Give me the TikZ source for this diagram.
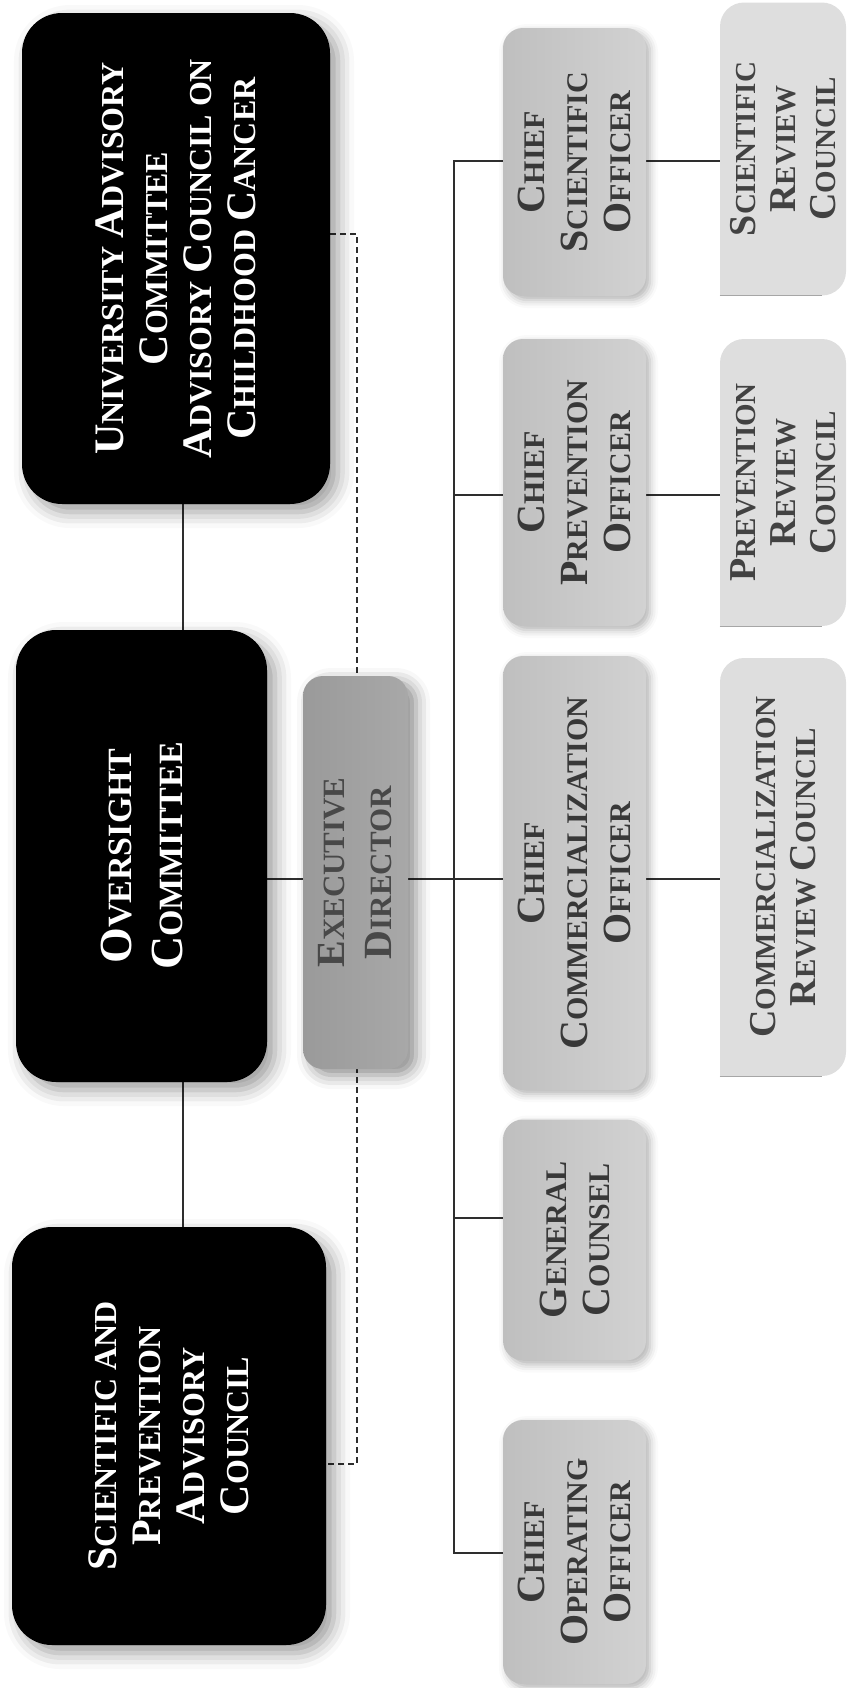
\documentclass[tikz,border=0pt]{standalone}
\usepackage{fontspec}
\setmainfont{Liberation Serif}
\usetikzlibrary{backgrounds,calc,shadows.blur}
\definecolor{chiefgray}{HTML}{BFBFBF}
\definecolor{chieflight}{HTML}{D2D2D2}
\definecolor{execgray}{HTML}{9A9A9A}
\definecolor{execlight}{HTML}{A8A8A8}
\definecolor{revgray}{HTML}{DEDEDE}
\definecolor{chieftext}{HTML}{383838}
\definecolor{exectext}{HTML}{484848}
\definecolor{revtext}{HTML}{424242}
\definecolor{linecol}{HTML}{2E2E2E}
\newcommand\W[2]{{\fontsize{\bigsz}{\bigsz}\selectfont #1}#2}
\begin{document}
\begin{tikzpicture}[x=0.5pt,y=-0.5pt,
  blackbox/.style={fill=black, rounded corners=20pt, inner sep=0pt,
    blur shadow={shadow xshift=4pt, shadow yshift=-4pt, shadow blur radius=8pt, shadow opacity=40}},
  chiefbox/.style={left color=chiefgray, right color=chieflight, rounded corners=10pt, inner sep=0pt, minimum width=71.5pt,
    blur shadow={shadow xshift=2pt, shadow yshift=-2pt, shadow blur radius=4pt, shadow opacity=30}},
  execbox/.style={left color=execgray, right color=execlight, rounded corners=10pt, inner sep=0pt,
    blur shadow={shadow xshift=4pt, shadow yshift=-3pt, shadow blur radius=7pt, shadow opacity=45}},
  revbox/.style={fill=revgray, rounded corners=12pt, inner sep=0pt, minimum width=63pt},
  wtext/.style={rotate=90, align=center, text=white, inner sep=0pt,
    font=\def\bigsz{21}\fontsize{16}{22}\selectfont\bfseries},
  otext/.style={rotate=90, align=center, text=white, inner sep=0pt,
    font=\def\bigsz{23}\fontsize{17}{25.5}\selectfont\bfseries},
  ctext/.style={rotate=90, align=center, text=chieftext, inner sep=0pt,
    font=\def\bigsz{20}\fontsize{15}{21.5}\selectfont\bfseries},
  etext/.style={rotate=90, align=center, text=exectext, inner sep=0pt,
    font=\def\bigsz{20}\fontsize{15.5}{23.5}\selectfont\bfseries},
  rtext/.style={rotate=90, align=center, text=revtext, inner sep=0pt,
    font=\def\bigsz{19}\fontsize{14.5}{20}\selectfont\bfseries},
  conn/.style={draw=linecol, line width=0.6pt},
  dconn/.style={draw=linecol, line width=0.6pt, dash pattern=on 3pt off 2pt}
]
\useasboundingbox (0,0) rectangle (848,1688);

% black boxes
\node[blackbox, minimum width=154pt, minimum height=245.5pt] (uni) at (176,258.5) {};
\node[wtext] (uniT) at (uni.center) {\W{U}{NIVERSITY} \W{A}{DVISORY}\\\W{C}{OMMITTEE}\\\W{A}{DVISORY} \W{C}{OUNCIL} ON\\\W{C}{HILDHOOD} \W{C}{ANCER}};
\node[blackbox, minimum width=125.5pt, minimum height=226pt] (over) at (141.5,856) {};
\node[otext] (overT) at (over.center) {\W{O}{VERSIGHT}\\\W{C}{OMMITTEE}};
\node[blackbox, minimum width=157pt, minimum height=209pt] (sci) at (169,1436) {};
\node[wtext] (sciT) at (sci.center) {\W{S}{CIENTIFIC} AND\\\W{P}{REVENTION}\\\W{A}{DVISORY}\\\W{C}{OUNCIL}};

% executive director
\node[execbox, minimum width=52.5pt, minimum height=196.5pt] (exec) at (355.5,872.5) {};
\node[etext] (execT) at (exec.center) {\W{E}{XECUTIVE}\\\W{D}{IRECTOR}};

% chief boxes
\node[chiefbox, minimum height=134pt] (csci) at (574.5,162) {};
\node[ctext] (csciT) at (csci.center) {\W{C}{HIEF}\\\W{S}{CIENTIFIC}\\\W{O}{FFICER}};
\node[chiefbox, minimum height=143.5pt] (cprev) at (574.5,482.5) {};
\node[ctext] (cprevT) at (cprev.center) {\W{C}{HIEF}\\\W{P}{REVENTION}\\\W{O}{FFICER}};
\node[chiefbox, minimum height=217pt] (ccomm) at (574.5,873) {};
\node[ctext] (ccommT) at (ccomm.center) {\W{C}{HIEF}\\\W{C}{OMMERCIALIZATION}\\\W{O}{FFICER}};
\node[chiefbox, minimum height=120.5pt] (gc) at (574.5,1240) {};
\node[ctext] (gcT) at (gc.center) {\W{G}{ENERAL}\\\W{C}{OUNSEL}};
\node[chiefbox, minimum height=132pt] (coo) at (574.5,1552) {};
\node[ctext] (cooT) at (coo.center) {\W{C}{HIEF}\\\W{O}{PERATING}\\\W{O}{FFICER}};

% review boxes
\node[revbox, minimum height=146.5pt] (rsci) at (783,149) {};
\node[revbox, minimum height=143.5pt] (rprev) at (783,482.5) {};
\node[revbox, minimum height=209pt] (rcomm) at (783,867) {};
\foreach \r in {rsci,rprev,rcomm}{
  \fill[revgray] (\r.south west) rectangle +(24,-24);
  \draw[gray!70, line width=0.5pt] (\r.south west) -- ($(\r.south east)+(-12pt,0)$);
}
\node[rtext] (rsciT) at (rsci.center) {\W{S}{CIENTIFIC}\\\W{R}{EVIEW}\\\W{C}{OUNCIL}};
\node[rtext] (rprevT) at (rprev.center) {\W{P}{REVENTION}\\\W{R}{EVIEW}\\\W{C}{OUNCIL}};
\node[rtext] (rcommT) at (rcomm.center) {\W{C}{OMMERCIALIZATION}\\\W{R}{EVIEW} \W{C}{OUNCIL}};

% connectors
\coordinate (ux) at (183,0);
\coordinate (my) at (0,879);
\coordinate (bus) at (454,0);
\coordinate (ly1) at (0,161);
\coordinate (ly2) at (0,495);
\coordinate (ly4) at (0,1218);
\coordinate (ly5) at (0,1553);
\coordinate (dx) at (357,0);
\coordinate (dy1) at (0,234);
\coordinate (dy2) at (0,1464);
\begin{scope}[on background layer]
  \draw[conn] (uni.south -| ux) -- (over.north -| ux);
  \draw[conn] (over.south -| ux) -- (sci.north -| ux);
  \draw[conn] (over.east |- my) -- (ccomm.west |- my);
  \draw[conn] (csci.west |- ly1) -| (bus |- ly5) -- (coo.west |- ly5);
  \draw[conn] (bus |- ly2) -- (cprev.west |- ly2);
  \draw[conn] (bus |- ly4) -- (gc.west |- ly4);
  \draw[conn] (csci.east |- ly1) -- (rsci.west |- ly1);
  \draw[conn] (cprev.east |- ly2) -- (rprev.west |- ly2);
  \draw[conn] (ccomm.east |- my) -- (rcomm.west |- my);
  \draw[dconn] (uni.east |- dy1) -| (dx |- dy2) -- (sci.east |- dy2);
\end{scope}
\end{tikzpicture}
\end{document}
